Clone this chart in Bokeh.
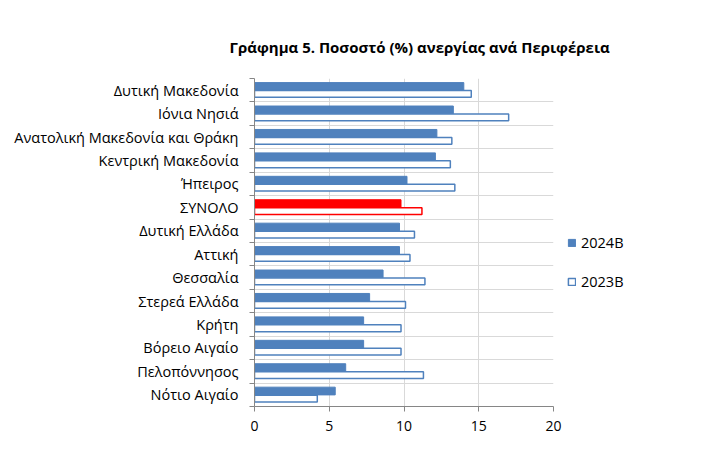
from bokeh.plotting import figure
from bokeh.models import ColumnDataSource, Range1d, FixedTicker, Legend, LegendItem
from bokeh.embed import file_html
from bokeh.resources import INLINE

# ---- data ----
regions = ["Δυτική Μακεδονία", "Ιόνια Νησιά", "Ανατολική Μακεδονία και Θράκη",
           "Κεντρική Μακεδονία", "Ήπειρος", "ΣΥΝΟΛΟ", "Δυτική Ελλάδα", "Αττική",
           "Θεσσαλία", "Στερεά Ελλάδα", "Κρήτη", "Βόρειο Αιγαίο", "Πελοπόννησος",
           "Νότιο Αιγαίο"]
v2024 = [14.0, 13.3, 12.2, 12.1, 10.2, 9.8, 9.7, 9.7, 8.6, 7.7, 7.3, 7.3, 6.1, 5.4]
v2023 = [14.5, 17.0, 13.2, 13.1, 13.4, 11.2, 10.7, 10.4, 11.4, 10.1, 9.8, 9.8, 11.3, 4.2]
series = ["2024Β", "2023Β"]
x_ticks = [0, 5, 10, 15, 20]
total_label = "ΣΥΝΟΛΟ"
title_text = "Γράφημα 5. Ποσοστό (%) ανεργίας ανά Περιφέρεια"

# ---- styles ----
BLUE = "#4F81BD"
RED = "#FF0000"
AXIS = "#868686"
GRID = "#D9D9D9"
FONT = "Open Sans"

n = len(regions)
centers = [n - i - 0.5 for i in range(n)]
bounds = [float(k) for k in range(n + 1)]
off = 0.16
c24 = [RED if r == total_label else BLUE for r in regions]

src = ColumnDataSource(dict(
    region=regions,
    y24=[c + off for c in centers],
    y23=[c - off for c in centers],
    v24=v2024, v23=v2023, c24=c24,
))

p = figure(frame_width=299, frame_height=328,
           x_range=Range1d(0, 20), y_range=Range1d(0, n),
           output_backend="svg", toolbar_location=None,
           min_border_left=254, min_border_right=136,
           min_border_top=78, min_border_bottom=40)
p.outline_line_color = None
p.background_fill_color = "white"

p.title.text = title_text
p.title.text_font = FONT
p.title.text_font_style = "bold"
p.title.text_font_size = "15px"
p.title.text_color = "black"
p.title.align = "left"
p.title.offset = -25
p.title.vertical_align = "top"
p.title.standoff = 40

r24 = p.hbar(y="y24", left=0, right="v24", height=0.33, fill_color="c24",
             line_color="c24", line_width=1, source=src)
r23 = p.hbar(y="y23", left=0, right="v23", height=0.29, fill_color="white",
             line_color="c24", line_width=1.5, source=src)

# x axis
p.xaxis.ticker = FixedTicker(ticks=x_ticks)
p.xaxis.axis_line_color = AXIS
p.xaxis.major_tick_line_color = AXIS
p.xaxis.major_tick_out = 5
p.xaxis.major_tick_in = 0
p.xaxis.minor_tick_line_color = None
p.xaxis.major_label_text_font = FONT
p.xaxis.major_label_text_font_size = "14px"
p.xaxis.major_label_text_color = "black"
p.xaxis.major_label_standoff = 9

# y axis
p.yaxis.ticker = FixedTicker(ticks=centers, minor_ticks=bounds)
p.yaxis.major_label_overrides = {c: r for c, r in zip(centers, regions)}
p.yaxis.axis_line_color = AXIS
p.yaxis.major_tick_line_color = None
p.yaxis.minor_tick_line_color = AXIS
p.yaxis.minor_tick_out = 5
p.yaxis.minor_tick_in = 0
p.yaxis.major_label_text_font = FONT
p.yaxis.major_label_text_font_size = "14.5px"
p.yaxis.major_label_text_color = "black"
p.yaxis.major_label_standoff = 10

# grids
p.xgrid.grid_line_color = GRID
p.ygrid.ticker = FixedTicker(ticks=bounds)
p.ygrid.grid_line_color = GRID

legend = Legend(items=[LegendItem(label=series[0], renderers=[r24], index=0),
                       LegendItem(label=series[1], renderers=[r23], index=0)],
                location=(14, 115), orientation="vertical",
                glyph_width=9, glyph_height=9, label_height=9, spacing=20,
                padding=0, margin=0, border_line_color=None,
                background_fill_alpha=0, label_text_font=FONT,
                label_text_font_size="14.5px", label_text_color="black",
                label_standoff=5)
p.add_layout(legend, "right")

open("out.html", "w").write(file_html(p, INLINE))
